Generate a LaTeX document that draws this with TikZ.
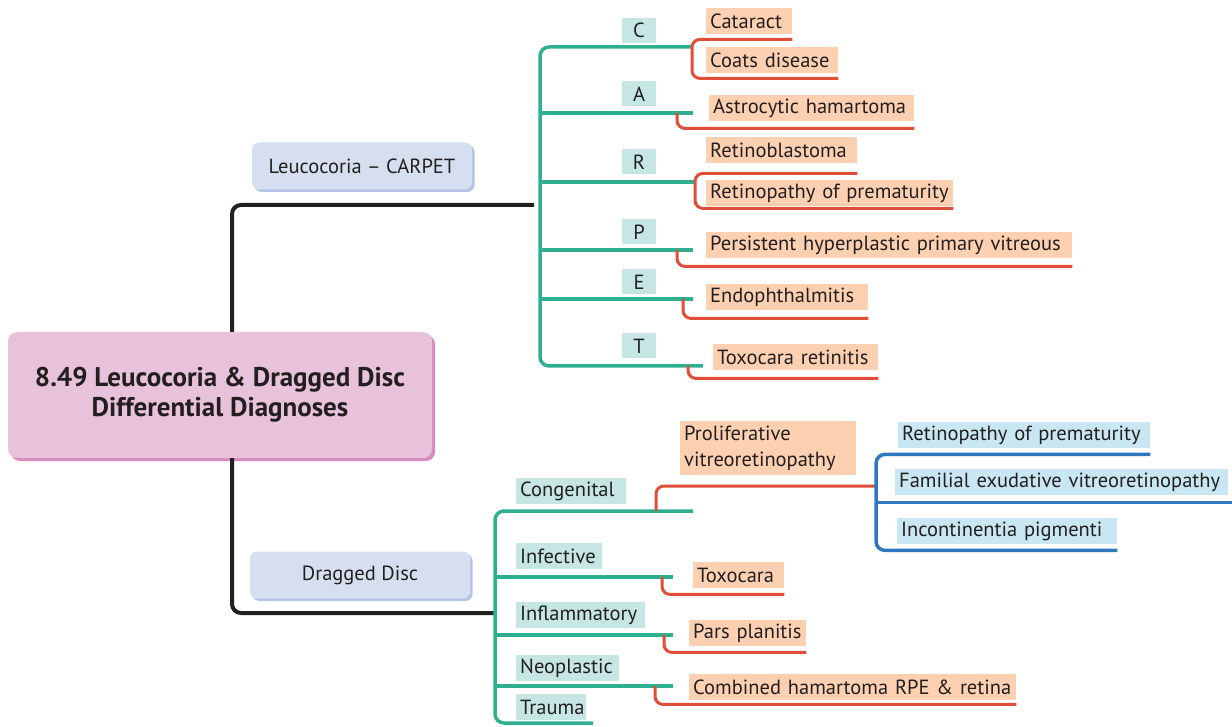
\documentclass[tikz,border=0pt]{standalone}
\usepackage{fontspec}
\setmainfont{PT Sans}
\usetikzlibrary{shadows,calc}
\definecolor{grnc}{RGB}{46,175,143}
\definecolor{redc}{RGB}{224,78,57}
\definecolor{bluc}{RGB}{47,120,190}
\definecolor{blkc}{RGB}{35,31,32}
\definecolor{leafc}{RGB}{253,208,177}
\definecolor{tealc}{RGB}{197,230,227}
\definecolor{skyc}{RGB}{201,231,243}
\definecolor{pinkc}{RGB}{232,193,218}
\definecolor{pinksh}{RGB}{214,140,190}
\definecolor{hubc}{RGB}{214,223,240}
\definecolor{hubsh}{RGB}{180,196,230}
\newcommand{\lf}{\fontsize{20.5}{26}\selectfont}
\begin{document}
\begin{tikzpicture}[x=1pt,y=-1pt,
  blk/.style={draw=blkc,line width=4pt,rounded corners=9pt},
  grn/.style={draw=grnc,line width=3.5pt,rounded corners=9pt},
  redl/.style={draw=redc,line width=3pt,rounded corners=8pt},
  blul/.style={draw=bluc,line width=3.5pt,rounded corners=9pt},
  box/.style={anchor=north west,inner xsep=4pt,inner ysep=0pt,minimum height=26pt,align=left,font=\lf,text=blkc,text width=#1},
  leaf/.style={box=#1,fill=leafc},
  cat/.style={box=#1,fill=tealc},
  sky/.style={box=#1,fill=skyc},
  letter/.style={fill=tealc,minimum width=34pt,minimum height=25pt,inner sep=0pt,font=\lf,text=blkc},
  hub/.style={fill=hubc,rounded corners=7pt,minimum width=220pt,minimum height=47pt,font=\lf,text=blkc,
    general shadow={fill=hubsh,shadow xshift=2.5pt,shadow yshift=-2.5pt}},
  mainbox/.style={fill=pinkc,rounded corners=9pt,minimum width=424pt,minimum height=126pt,align=center,
    font=\bfseries\fontsize{27}{30}\selectfont,text=blkc,
    general shadow={fill=pinksh,shadow xshift=3pt,shadow yshift=-3pt}}
]
\useasboundingbox (0,0) rectangle (1232,727);

% ---------- hubs ----------
\node[mainbox] (main) at (220,395) {8.49 Leucocoria \& Dragged Disc\\Differential Diagnoses};
\node[hub] (carpet) at (362,166) {Leucocoria -- CARPET};
\node[hub] (dragged) at (360,575) {Dragged Disc};

\coordinate (jx) at (232,0);
\coordinate (cj) at (534,205);
\coordinate (dj) at (494,613);
\draw[blk] (main.north -| jx) |- (cj);
\draw[blk] (main.south -| jx) |- (dj);

% ---------- CARPET letters ----------
\node[letter] (lC) at (639,30.5) {C};
\node[letter] (lA) at (639,94) {A};
\node[letter] (lR) at (639,162) {R};
\node[letter] (lP) at (639,232) {P};
\node[letter] (lE) at (639,282) {E};
\node[letter] (lT) at (639,346) {T};

\coordinate (gtop) at (540,47);
\coordinate (gbot) at (540,366);
\coordinate (gC) at (692,47);
\coordinate (gA) at (693,113);
\coordinate (gR) at (695,182);
\coordinate (gP) at (693,250);
\coordinate (gE) at (693,299);
\coordinate (gT) at (703,366);
\draw[grn] (gC) -- (gtop) -- (gbot) -- (gT);
\draw[grn,rounded corners=0pt] (gA -| gtop) -- (gA);
\draw[grn,rounded corners=0pt] (gR -| gtop) -- (gR);
\draw[grn,rounded corners=0pt] (gP -| gtop) -- (gP);
\draw[grn,rounded corners=0pt] (gE -| gtop) -- (gE);

% ---------- CARPET leaves ----------
\node[leaf=78pt] (cataract) at (706,8) {Cataract};
\node[leaf=124pt] (coats) at (706,47) {Coats disease};
\node[leaf=197pt] (astro) at (709,95) {Astrocytic hamartoma};
\node[leaf=143pt] (rb) at (706,137) {Retinoblastoma};
\node[leaf=239pt] (rop) at (706,180) {Retinopathy of prematurity};
\node[leaf=358pt] (phpv) at (706,232) {Persistent hyperplastic primary vitreous};
\node[leaf=154pt] (endo) at (706,284) {Endophthalmitis};
\node[leaf=157pt] (toxr) at (713,344) {Toxocara retinitis};

\coordinate (rC) at (692,0);
\draw[redl] ($(cataract.south east)+(0,5)$) -- ($(cataract.south east -| rC)+(0,5)$)
  -- ($(coats.south east -| rC)+(0,5)$) -- ($(coats.south east)+(0,5)$);
\coordinate (rA) at (677,113);
\draw[redl] (rA) -- ($(astro.south east -| rA)+(0,7)$) -- ($(astro.south east)+(0,7)$);
\coordinate (rR) at (695,0);
\draw[redl] ($(rb.south east)+(0,10)$) -- ($(rb.south east -| rR)+(0,10)$)
  -- ($(rop.south east -| rR)+(0,2)$) -- ($(rop.south east)+(0,2)$);
\coordinate (rP) at (677,250);
\draw[redl] (rP) -- ($(phpv.south east -| rP)+(0,8)$) -- ($(phpv.south east)+(0,8)$);
\coordinate (rE) at (683,299);
\draw[redl] (rE) -- ($(endo.south east -| rE)+(0,8)$) -- ($(endo.south east)+(0,8)$);
\coordinate (rT) at (688,366);
\draw[redl] (rT) -- ($(toxr.south east -| rT)+(0,8)$) -- ($(toxr.south east)+(0,8)$);

% ---------- Dragged disc categories ----------
\node[cat=102pt] (cong) at (516,478) {Congenital};
\node[cat=78pt] (infe) at (516,543) {Infective};
\node[cat=121pt] (infl) at (516,602) {Inflammatory};
\node[cat=95pt] (neo) at (516,655) {Neoplastic};
\node[cat=62pt] (trau) at (516,694) {Trauma};

\coordinate (htop) at (495,511);
\coordinate (hbot) at (495,723);
\coordinate (hCong) at (693,511);
\coordinate (hInfe) at (673,577);
\coordinate (hInfl) at (673,635);
\coordinate (hNeo) at (673,686);
\coordinate (hTrau) at (593,723);
\draw[grn] (hCong) -- (htop) -- (hbot) -- (hTrau);
\draw[grn,rounded corners=0pt] (hInfe -| htop) -- (hInfe);
\draw[grn,rounded corners=0pt] (hInfl -| htop) -- (hInfl);
\draw[grn,rounded corners=0pt] (hNeo -| htop) -- (hNeo);

% ---------- Dragged disc leaves ----------
\node[leaf=168pt,minimum height=54pt] (pvr) at (680,421) {Proliferative\\vitreoretinopathy};
\node[leaf=83pt] (toxo) at (693,562) {Toxocara};
\node[leaf=109pt] (pars) at (689,620) {Pars planitis};
\node[leaf=319pt] (comb) at (689,674) {Combined hamartoma RPE \& retina};

\node[sky=244pt] (rop2) at (898,422) {Retinopathy of prematurity};
\node[sky=325pt] (fevr) at (895,469) {Familial exudative vitreoretinopathy};
\node[sky=212pt] (incp) at (897,518) {Incontinentia pigmenti};

\coordinate (bx) at (876,0);
\coordinate (rCong) at (656,511);
\coordinate (rCongTop) at (656,486);
\draw[redl] (rCong) -- (rCongTop) -- (rCongTop -| bx);
\draw[blul] ($(rop2.south east)+(0,6)$) -- ($(rop2.south east -| bx)+(0,6)$)
  -- ($(incp.south east -| bx)+(0,6)$) -- ($(incp.south east)+(0,6)$);
\coordinate (bmidend) at (1232,0);
\draw[blul,rounded corners=0pt] ($(fevr.south -| bx)+(0,7)$) -- ($(fevr.south -| bmidend)+(0,7)$);

\coordinate (rTx) at (662,577);
\draw[redl] (rTx) -- ($(toxo.south east -| rTx)+(0,6)$) -- ($(toxo.south east)+(0,6)$);
\coordinate (rPp) at (664,635);
\draw[redl] (rPp) -- ($(pars.south east -| rPp)+(0,6)$) -- ($(pars.south east)+(0,6)$);
\coordinate (rCb) at (655,686);
\draw[redl] (rCb) -- ($(comb.south east -| rCb)+(0,4)$) -- ($(comb.south east)+(0,4)$);
\end{tikzpicture}
\end{document}
